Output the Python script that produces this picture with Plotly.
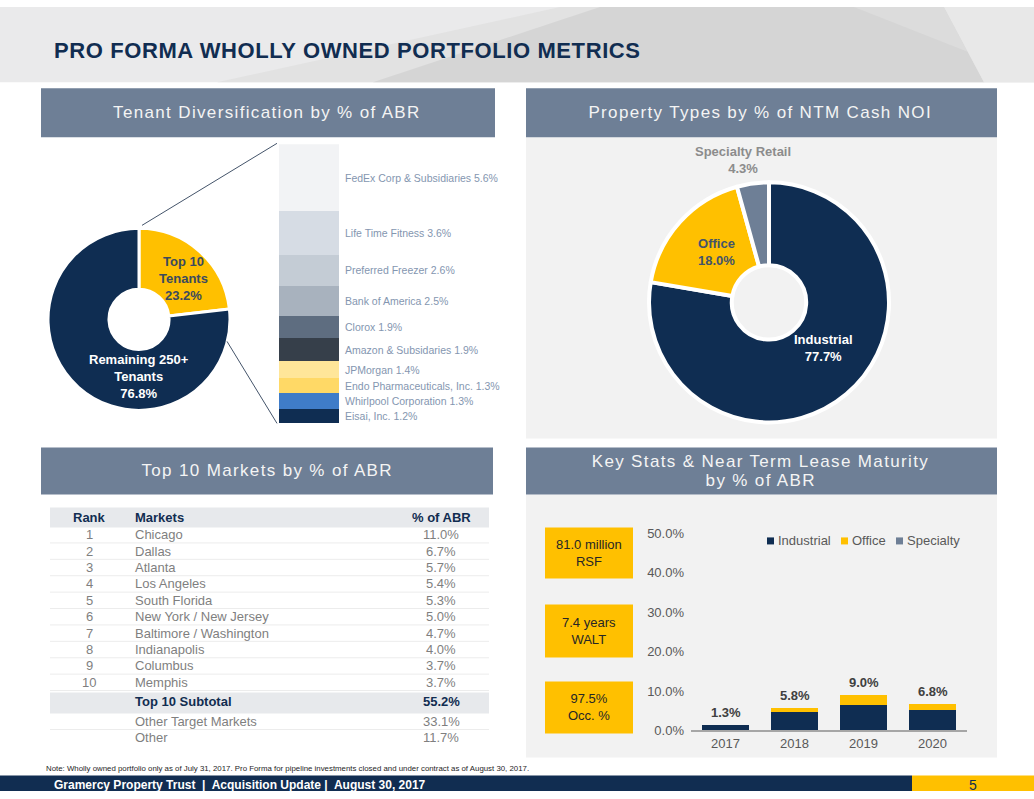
import plotly.graph_objects as go

W, H = 1034, 799
# the photographed page shows the window rows 0..799 in picture rows ~6.7..791;
# slide positions below are picture positions, mapped back to page rows here.
OFF, SC = 6.7, 0.981


def X(px):
    return px / W


def Y(py):
    page = (py - OFF) / SC
    page = min(max(page, 0.0), H)
    return 1 - page / H


NAVY = "#0F2D52"
YELLOW = "#FFC000"
SLATE = "#6E7F96"
FONT = "Liberation Sans, Arial, sans-serif"

# ---------------- data ----------------
split_labels = ["Top 10<br>Tenants", "Remaining 250+<br>Tenants"]
split_values = [23.2, 76.8]
split_colors = [YELLOW, NAVY]

tenant_names = ["FedEx Corp & Subsidiaries", "Life Time Fitness", "Preferred Freezer",
                "Bank of America", "Clorox", "Amazon & Subsidaries", "JPMorgan",
                "Endo Pharmaceuticals, Inc.", "Whirlpool Corporation", "Eisai, Inc."]
tenant_values = [5.6, 3.6, 2.6, 2.5, 1.9, 1.9, 1.4, 1.3, 1.3, 1.2]
tenant_colors = ["#F2F3F5", "#D6DCE4", "#C4CCD5", "#A8B2BE", "#5E6D80", "#363F4A",
                 "#FFE699", "#FFD966", "#3F7CC8", "#0F2D52"]

ptype_labels = ["Industrial", "Office", "Specialty Retail"]
ptype_values = [77.7, 18.0, 4.3]
ptype_colors = [NAVY, YELLOW, SLATE]

market_ranks = ["1", "2", "3", "4", "5", "6", "7", "8", "9", "10"]
market_names = ["Chicago", "Dallas", "Atlanta", "Los Angeles", "South Florida",
                "New York / New Jersey", "Baltimore / Washington", "Indianapolis",
                "Columbus", "Memphis"]
market_pct = [11.0, 6.7, 5.7, 5.4, 5.3, 5.0, 4.7, 4.0, 3.7, 3.7]
subtotal_label = "Top 10 Subtotal"
subtotal_pct = 55.2
other_names = ["Other Target Markets", "Other"]
other_pct = [33.1, 11.7]

years = ["2017", "2018", "2019", "2020"]
mat_series = ["Industrial", "Office", "Specialty"]
mat_industrial = [1.3, 4.8, 6.5, 5.2]
mat_office = [0.0, 1.0, 2.5, 1.6]
mat_specialty = [0.0, 0.0, 0.0, 0.0]

key_stats = ["81.0 million<br>RSF", "7.4 years<br>WALT", "97.5%<br>Occ. %"]

# ---------------- figure ----------------
fig = go.Figure()

# left donut
fig.add_trace(go.Pie(
    labels=split_labels, values=split_values, sort=False, direction="clockwise",
    rotation=0, hole=0.33, textinfo="none", hoverinfo="label+percent",
    marker=dict(colors=split_colors, line=dict(color="white", width=3)),
    domain=dict(x=[X(48), X(230)], y=[Y(410), Y(228)]), showlegend=False))

# right donut
fig.add_trace(go.Pie(
    labels=ptype_labels, values=ptype_values, sort=False, direction="clockwise",
    rotation=0, hole=0.31, textinfo="none", hoverinfo="label+percent",
    marker=dict(colors=ptype_colors, line=dict(color="white", width=4)),
    domain=dict(x=[X(649), X(889)], y=[Y(422), Y(182)]), showlegend=False))

# left stacked bar (top-10 tenants), bottom to top
for name, v, c in reversed(list(zip(tenant_names, tenant_values, tenant_colors))):
    fig.add_trace(go.Bar(x=["Top 10"], y=[v], name=name, marker=dict(color=c, line=dict(width=0)),
                         width=1.0, xaxis="x", yaxis="y", showlegend=False,
                         hovertemplate=name + ": %{y}%<extra></extra>"))

# maturity chart
mat_values = [mat_industrial, mat_office, mat_specialty]
mat_colors = [NAVY, YELLOW, SLATE]
for name, vals, c in zip(mat_series, mat_values, mat_colors):
    fig.add_trace(go.Bar(x=years, y=vals, name=name, marker=dict(color=c, line=dict(width=0)),
                         width=0.667, xaxis="x2", yaxis="y2", showlegend=False))

shapes = []
ann = []


def rect(x0, y0, x1, y1, color, layer="below"):
    shapes.append(dict(type="rect", xref="paper", yref="paper", x0=X(x0), x1=X(x1),
                       y0=Y(y1), y1=Y(y0), fillcolor=color, line=dict(width=0), layer=layer))


def poly(points, color):
    path = "M " + " L ".join(f"{X(px)},{Y(py)}" for px, py in points) + " Z"
    shapes.append(dict(type="path", xref="paper", yref="paper", path=path,
                       fillcolor=color, line=dict(width=0), layer="below"))


def text(px, py, t, size=13, color="#333333", bold=False, xanchor="center", family=FONT):
    if bold:
        t = "<b>" + t + "</b>"
    ann.append(dict(x=X(px), y=Y(py), xref="paper", yref="paper", text=t, showarrow=False,
                    xanchor=xanchor, yanchor="middle", align="left" if xanchor == "left" else "center",
                    font=dict(size=size, color=color, family=family)))


# header band
rect(0, 0, W, 82, "#EAEAEB")
poly([(217, 82), (560, 0), (W, 0), (W, 82)], "#E2E2E2")
poly([(373, 82), (600, 0), (944, 0), (984, 82)], "#D5D5D5")
poly([(854, 0), (944, 0), (984, 82), (1007, 67)], "#DCDCDC")
poly([(944, 0), (W, 0), (W, 82), (984, 82)], "#E8E8E8")
TITLE = "PRO FORMA WHOLLY OWNED PORTFOLIO METRICS"
text(52, 50, TITLE, size=22, color="#112D51", bold=True, xanchor="left")

# panels
rect(526, 137, 997, 438, "#F2F2F2")
rect(526, 494, 997, 757, "#F2F2F2")

# section headers
HDR = "#6E7F96"
HTC = "#F4F4F4"
rect(41, 88, 495, 137, HDR)
rect(526, 88, 997, 137, HDR)
rect(41, 447, 493, 494, HDR)
rect(526, 447, 997, 494, HDR)
HEADERS = ["Tenant Diversification by % of ABR", "Property Types by % of NTM Cash NOI",
           "Top 10 Markets by % of ABR", "Key Stats & Near Term Lease Maturity", "by % of ABR"]
text(267, 112, HEADERS[0], size=17, color=HTC)
text(760, 112, HEADERS[1], size=17, color=HTC)
text(267, 470, HEADERS[2], size=17, color=HTC)
text(760, 461.5, HEADERS[3], size=17, color=HTC)
text(760, 480.5, HEADERS[4], size=17, color=HTC)

# connecting lines (left)
shapes.append(dict(type="line", xref="paper", yref="paper", x0=X(142), y0=Y(225), x1=X(277), y1=Y(143),
                   line=dict(color="#44546A", width=1)))
shapes.append(dict(type="line", xref="paper", yref="paper", x0=X(227), y0=Y(341), x1=X(277), y1=Y(423),
                   line=dict(color="#44546A", width=1)))

# donut labels (left)
text(183, 278, f"{split_labels[0]}<br>{split_values[0]:.1f}%", size=13, color="#3B4A5E", bold=True)
text(139, 376, f"{split_labels[1]}<br>{split_values[1]:.1f}%", size=13, color="white", bold=True)

# stacked bar labels
cum = 0
mids = []
for v in reversed(tenant_values):
    mids.append(cum + v / 2)
    cum += v
mids = list(reversed(mids))
for name, v, m in zip(tenant_names, tenant_values, mids):
    ann.append(dict(x=X(343), xref="paper", y=m, yref="y", text=f"{name} {v:.1f}%", showarrow=False,
                    xanchor="left", yanchor="middle", font=dict(size=10.5, color="#8496B0", family=FONT)))

# right donut labels
text(743, 160, f"Specialty Retail<br>{ptype_values[2]:.1f}%", size=13, color="#8C8C8C", bold=True)
text(716, 252, f"Office<br>{ptype_values[1]:.1f}%", size=13, color="#44546A", bold=True)
text(823, 348, f"Industrial<br>{ptype_values[0]:.1f}%", size=13, color="white", bold=True)

# table
TX = "#7F7F7F"
TH = "#112D51"
rect(50, 507, 489, 527, "#E7E9EC")
rect(50, 692, 489, 713, "#E7E9EC")
text(89, 517.5, "Rank", size=13, color=TH, bold=True)
text(133, 517.5, "Markets", size=13, color=TH, bold=True, xanchor="left")
text(441, 517.5, "% of ABR", size=13, color=TH, bold=True)
row_y0 = 534.3
step = 16.4
for i, (r, n, p) in enumerate(zip(market_ranks, market_names, market_pct)):
    yy = row_y0 + i * step
    text(89, yy, r, size=13, color=TX)
    text(133, yy, n, size=13, color=TX, xanchor="left")
    text(441, yy, f"{p:.1f}%", size=13, color=TX)
    shapes.append(dict(type="line", xref="paper", yref="paper", x0=X(50), x1=X(489),
                       y0=Y(yy + 8.2), y1=Y(yy + 8.2), line=dict(color="#ECECEC", width=1)))
text(133, 701.5, subtotal_label, size=13, color=TH, bold=True, xanchor="left")
text(441, 701.5, f"{subtotal_pct:.1f}%", size=13, color=TH, bold=True)
for j, (n, p) in enumerate(zip(other_names, other_pct)):
    yy = 720.7 + j * 16.5
    text(133, yy, n, size=13, color=TX, xanchor="left")
    text(441, yy, f"{p:.1f}%", size=13, color=TX)
shapes.append(dict(type="line", xref="paper", yref="paper", x0=X(50), x1=X(489),
                   y0=Y(729), y1=Y(729), line=dict(color="#ECECEC", width=1)))

# key stat boxes
for (y0, y1), t in zip([(527, 578), (604, 657), (681, 733)], key_stats):
    rect(545, y0, 633, y1, YELLOW)
    text(589, (y0 + y1) / 2, t, size=13, color="#262626")

# manual legend for the maturity chart
leg_sq = [767, 841, 896]
for name, c, sx in zip(mat_series, mat_colors, leg_sq):
    rect(sx, 537, sx + 7, 544, c, layer="above")
    text(sx + 9, 540.5, name, size=13, color="#595959", xanchor="left")

# totals over maturity bars
for i, (a, b, c) in enumerate(zip(mat_industrial, mat_office, mat_specialty)):
    tot = a + b + c
    ann.append(dict(x=i, y=tot, xref="x2", yref="y2", text=f"<b>{tot:.1f}%</b>", showarrow=False,
                    yanchor="bottom", yshift=3, font=dict(size=13, color="#404040", family=FONT)))

# note and footer
text(44, 768, "Note: Wholly owned portfolio only as of July 31, 2017. Pro Forma for pipeline investments "
     "closed and under contract as of August 30, 2017.", size=7.85, color="#262626", xanchor="left")
rect(0, 775, 912, 799, "#112D51", layer="above")
rect(912, 775, W, 799, YELLOW, layer="above")
text(52, 785, "Gramercy Property Trust  |  Acquisition Update |  August 30, 2017", size=12,
     color="white", bold=True, xanchor="left",
     family="Liberation Sans Narrow, Arial Narrow, Liberation Sans, Arial, sans-serif")
text(973, 785, "5", size=14, color="#112D51")

fig.update_layout(
    width=W, height=H, margin=dict(l=0, r=0, t=0, b=0), autosize=False,
    paper_bgcolor="white", plot_bgcolor="rgba(0,0,0,0)", barmode="stack",
    font=dict(family=FONT, color="#595959"), showlegend=False,
    shapes=shapes, annotations=ann,
    xaxis=dict(domain=[X(279), X(339)], range=[-0.5, 0.5], visible=False, fixedrange=True),
    yaxis=dict(domain=[Y(423), Y(144)], range=[0, sum(tenant_values)], visible=False, fixedrange=True),
    xaxis2=dict(domain=[X(691), X(967)], anchor="y2", range=[-0.5, 3.5], type="category",
                showline=True, linecolor="#A6A6A6", linewidth=1.5, ticks="", showgrid=False,
                tickfont=dict(size=13, color="#595959")),
    yaxis2=dict(domain=[Y(730), Y(533)], anchor="x2", range=[0, 50], dtick=10, tickformat=".1f",
                ticksuffix="%", showgrid=False, zeroline=False, showline=False,
                tickfont=dict(size=13, color="#595959"), ticklabelstandoff=6),
    hovermode="closest",
)

# page styling: pin the figure to the window's top-left, letter-spaced headings like the slide
post = """
document.body.style.margin = '0';
document.body.style.overflow = 'hidden';
var gd = document.getElementById('{plot_id}');
gd.style.position = 'fixed';
gd.style.left = '0px';
gd.style.top = '0px';
var spaced = {};
spaced['%s'] = '0.6px';
%s
document.querySelectorAll('text.annotation-text').forEach(function (t) {
    var k = t.textContent;
    if (spaced[k]) { t.style.letterSpacing = spaced[k]; }
});
""" % (TITLE, "\n".join("spaced['%s'] = '1.35px';" % h for h in HEADERS))

fig.write_html("out.html", post_script=post, config={"displayModeBar": False})
